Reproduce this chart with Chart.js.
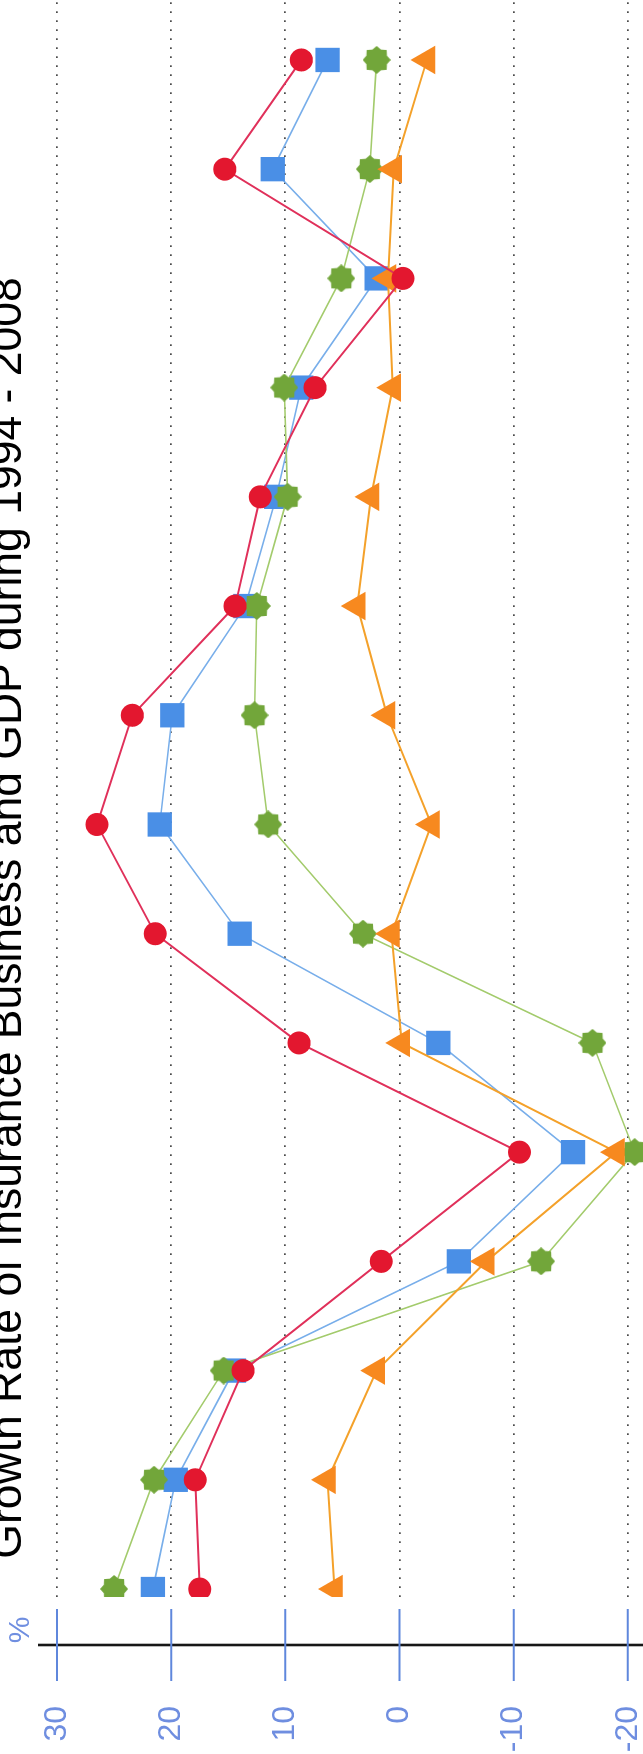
<!DOCTYPE html>
<html>
<head>
<meta charset="utf-8">
<script src="https://cdn.jsdelivr.net/npm/chart.js@4.4.1/dist/chart.umd.min.js"></script>
<style>
  html, body { margin: 0; padding: 0; background: #fff; overflow: hidden; width: 643px; height: 1754px; }
  /* The chart is laid out landscape and turned a quarter turn anticlockwise onto the portrait page. */
  #wrap { position: absolute; left: 0; top: 0; width: 1836px; height: 756px;
          transform-origin: 0 0; transform: translate(-14px, 1836px) rotate(-90deg); }
  canvas { display: block; }
</style>
</head>
<body>
<div id="wrap"><canvas id="chart" width="1836" height="756"></canvas></div>
<script>
const TITLE = 'Growth Rate of Insurance Business and GDP during 1994 - 2008';

const years = [1994, 1995, 1996, 1997, 1998, 1999, 2000, 2001, 2002, 2003, 2004, 2005, 2006, 2007, 2008];

// growth rates, %
const totalPremium = [17.5, 17.9, 13.7, 1.6, -10.5, 8.8, 21.4, 26.5, 23.4, 14.4, 12.2, 7.4, -0.3, 15.3, 8.6];
const lifePremium = [21.6, 19.6, 14.5, -5.2, -15.2, -3.4, 14.0, 21.0, 19.9, 13.5, 10.8, 8.6, 2.0, 11.1, 6.3];
const nonLifePremium = [25.0, 21.5, 15.4, -12.4, -20.6, -16.9, 3.2, 11.5, 12.7, 12.5, 9.8, 10.1, 5.1, 2.6, 2.0];
const gdpGrowth = [5.7, 6.3, 2.0, -7.6, -19.0, -0.2, 0.7, -2.8, 1.1, 3.7, 2.5, 0.6, 1.0, 0.5, -2.4];

const valueTicks = [30, 20, 10, 0, -10, -20, -30];

const FONT = '"Liberation Sans", Arial, Helvetica, sans-serif';
const LABEL_BLUE = '#6f8ee0';

// eight-pointed burst used as the marker of the third series
function burstMarker(size, color) {
  const c = document.createElement('canvas');
  c.width = c.height = size;
  const g = c.getContext('2d');
  const m = size / 2, outer = size / 2, inner = size / 2 * 0.8;
  g.beginPath();
  for (let i = 0; i < 16; i++) {
    const a = i * Math.PI / 8 - Math.PI / 2;
    const r = i % 2 ? inner : outer;
    g.lineTo(m + r * Math.cos(a), m + r * Math.sin(a));
  }
  g.closePath();
  g.fillStyle = color;
  g.fill();
  return c;
}

const toPoints = vals => years.map((yr, i) => ({ x: yr, y: vals[i] }));

// detached value axis: black rule with blue tick marks crossing it, and a "%" unit label
const axisRule = {
  id: 'axisRule',
  afterDraw(chart) {
    const { ctx, chartArea, scales: { y } } = chart;
    const ax = chartArea.left - 48;
    const top = y.getPixelForValue(30);
    ctx.save();
    ctx.strokeStyle = '#161616';
    ctx.lineWidth = 2.6;
    ctx.beginPath();
    ctx.moveTo(ax, top - 19);
    ctx.lineTo(ax, chartArea.bottom);
    ctx.stroke();
    ctx.strokeStyle = '#5f87dc';
    ctx.lineWidth = 2;
    y.ticks.forEach(t => {
      const py = y.getPixelForValue(t.value);
      ctx.beginPath();
      ctx.moveTo(ax - 36, py);
      ctx.lineTo(ax + 36, py);
      ctx.stroke();
    });
    ctx.fillStyle = LABEL_BLUE;
    ctx.font = '30px ' + FONT;
    ctx.textAlign = 'center';
    ctx.textBaseline = 'middle';
    ctx.fillText('%', ax + 15, top - 36);
    ctx.restore();
  }
};

new Chart(document.getElementById('chart'), {
  type: 'line',
  data: {
    datasets: [
      { label: 'Total premiums', data: toPoints(totalPremium), borderColor: '#e0305a', borderWidth: 2,
        pointStyle: 'circle', pointRadius: 11.5, pointBackgroundColor: '#e3172f', pointBorderWidth: 0 },
      { label: 'GDP', data: toPoints(gdpGrowth), borderColor: '#f4a12a', borderWidth: 2,
        pointStyle: 'triangle', pointRadius: 16.5, pointBackgroundColor: '#f7891f', pointBorderWidth: 0 },
      { label: 'Non-life', data: toPoints(nonLifePremium), borderColor: '#a3cb6c', borderWidth: 1.6,
        pointStyle: burstMarker(28, '#72a63a'), pointRadius: 14, pointBorderWidth: 0 },
      { label: 'Life', data: toPoints(lifePremium), borderColor: '#78aeea', borderWidth: 1.6,
        pointStyle: 'rect', pointRadius: 17.2, pointBackgroundColor: '#4a8fe6', pointBorderWidth: 0 }
    ]
  },
  options: {
    responsive: false,
    animation: false,
    devicePixelRatio: 1,
    layout: { autoPadding: false, padding: 0 },
    elements: { line: { tension: 0, fill: false } },
    plugins: {
      legend: { display: false },
      tooltip: { enabled: false },
      title: {
        display: true, text: TITLE, color: '#000',
        font: { family: FONT, size: 44.5, weight: 'normal', lineHeight: 1 },
        padding: { top: 0, bottom: 26.5 }
      }
    },
    scales: {
      x: { type: 'linear', min: 1993.927, max: 2008.549, display: false },
      y: {
        min: -30, max: 30,
        afterBuildTicks: s => { s.ticks = valueTicks.map(v => ({ value: v })); },
        afterFit: s => { s.width = 239; s.paddingTop = 0; s.paddingBottom = 0; },
        ticks: { color: LABEL_BLUE, font: { family: FONT, size: 32 }, padding: 109 },
        grid: { drawTicks: false, color: '#4a4a4a', lineWidth: 1.7 },
        border: { display: false, dash: [1.7, 7.3] }
      }
    }
  },
  plugins: [axisRule]
});
</script>
</body>
</html>
